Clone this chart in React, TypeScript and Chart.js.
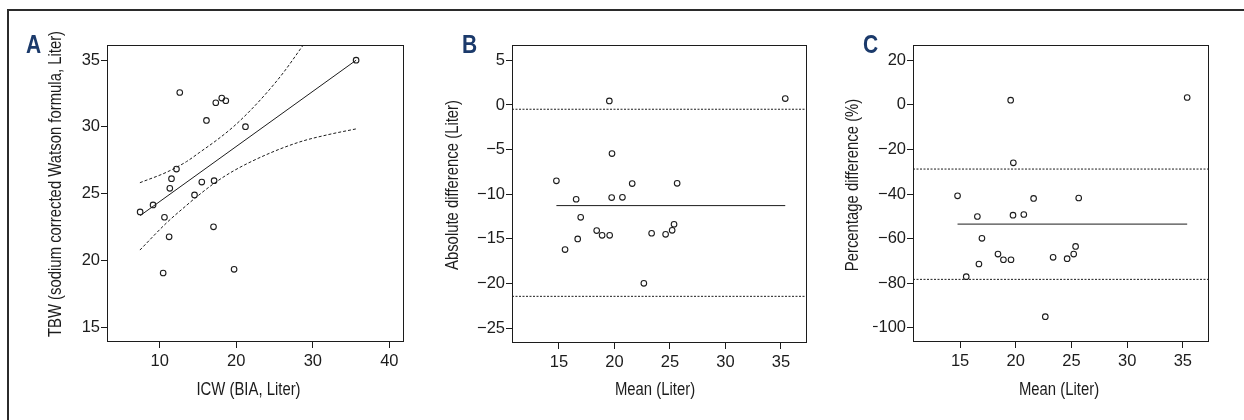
import React, { useEffect, useRef } from "react";
import { Chart, registerables } from "chart.js";

Chart.register(...registerables);

const W = 1244;
const H = 420;

// ---------- Panel A: TBW vs ICW ----------
const icwBIA = [35.66, 12.61, 18.1, 17.32, 18.63, 16.1, 21.2, 12.18, 11.53, 11.31, 15.49, 17.1, 14.54, 9.12, 7.43, 10.61, 11.22, 17.02, 10.44, 19.71];
const tbwWatson = [35.0, 32.58, 32.16, 31.81, 31.96, 30.49, 30.02, 26.84, 26.12, 25.4, 25.87, 25.97, 24.9, 24.15, 23.63, 23.23, 21.76, 22.51, 19.05, 19.33];
const regLineX = [7.43, 35.66];
const regLineY = [23.35, 35.0];
const ciUpperX = [7.4, 10.87, 13.49, 15.23, 17.42, 19.59, 21.78, 23.96, 26.13, 28.75];
const ciUpperY = [25.82, 26.6, 27.4, 28.1, 29.0, 30.0, 31.2, 32.55, 34.05, 36.14];
const ciLowerX = [7.4, 10.87, 13.49, 14.54, 17.1, 19.59, 23.96, 28.32, 32.0, 35.64];
const ciLowerY = [20.77, 22.8, 24.12, 24.63, 25.77, 26.69, 27.93, 28.88, 29.42, 29.85];
const aXTicks = [10, 20, 30, 40];
const aYTicks = [15, 20, 25, 30, 35];

// ---------- Panels B and C: Bland-Altman ----------
const meanLiter = [35.39, 19.54, 19.78, 14.77, 21.6, 25.65, 16.55, 19.75, 20.72, 16.96, 16.69, 15.55, 18.4, 18.89, 19.57, 23.35, 24.61, 25.2, 25.37, 22.65];
const absDiff = [0.72, 0.45, -5.45, -8.5, -8.81, -8.78, -10.57, -10.38, -10.35, -12.59, -15.02, -16.21, -14.08, -14.61, -14.61, -14.38, -14.5, -14.05, -13.37, -19.99];
const pctDiff = [3.3, 2.1, -26.0, -40.8, -42.0, -41.8, -50.1, -49.5, -49.2, -59.9, -71.4, -77.1, -66.95, -69.5, -69.5, -68.4, -69.0, -66.95, -63.5, -95.05];
const bMeanDiff = -11.28;
const bLoAUpper = -0.48;
const bLoALower = -21.45;
const cMeanDiff = -53.5;
const cLoAUpper = -28.8;
const cLoALower = -78.3;
const bcXTicks = [15, 20, 25, 30, 35];
const bYTicks = [5, 0, -5, -10, -15, -20, -25];
const cYTicks = [20, 0, -20, -40, -60, -80, -100];

const TICK_FONT = "'Liberation Sans', Arial, sans-serif";
const TITLE_FONT = "'Liberation Sans', Arial, sans-serif";
const INK = "#1c1c1c";
const LETTER_COLOR = "#1b3a6b";
const TITLE_SQUEEZE = 0.85;

const pts = (xs: number[], ys: number[]) => xs.map((x, i) => ({ x, y: ys[i] }));
const fmt = (v: number) => (v < 0 ? "\u2212" + Math.abs(v) : String(v));

type Panel = {
  letter: string;
  letterX: number;
  area: { l: number; r: number; t: number; b: number };
  xMin: number; xMax: number; yMin: number; yMax: number;
  xTicks: number[]; yTicks: number[];
  xTitle: string; yTitle: string;
  xTitlePos: [number, number]; yTitlePos: [number, number];
  datasets: any[];
};

const scatterDs = (data: { x: number; y: number }[]) => ({
  data,
  showLine: false,
  pointRadius: 2.8,
  pointHoverRadius: 2.8,
  pointStyle: "circle",
  pointBorderWidth: 1.1,
  borderColor: INK,
  pointBorderColor: INK,
  pointBackgroundColor: "rgba(0,0,0,0)",
  backgroundColor: "rgba(0,0,0,0)",
  order: 0,
});

const lineDs = (data: { x: number; y: number }[], dash: number[] = [], smooth = false) => ({
  data,
  showLine: true,
  pointRadius: 0,
  pointHoverRadius: 0,
  borderColor: INK,
  borderWidth: 1,
  borderDash: dash,
  fill: false,
  cubicInterpolationMode: smooth ? "monotone" : "default",
  tension: 0,
  order: 1,
});

const BC_XMIN = 10.77;
const BC_XMAX = 37.35;
const mMin = Math.min(...meanLiter);
const mMax = Math.max(...meanLiter);

const panels: Panel[] = [
  {
    letter: "A", letterX: 26,
    area: { l: 107, r: 404, t: 45, b: 342 },
    xMin: 3.1, xMax: 41.92, yMin: 13.88, yMax: 36.14,
    xTicks: aXTicks, yTicks: aYTicks,
    xTitle: "ICW (BIA, Liter)",
    yTitle: "TBW (sodium corrected Watson formula, Liter)",
    xTitlePos: [248.5, 390], yTitlePos: [56, 184],
    datasets: [
      lineDs(pts(regLineX, regLineY)),
      lineDs(pts(ciUpperX, ciUpperY), [3, 2], true),
      lineDs(pts(ciLowerX, ciLowerY), [3, 2], true),
      scatterDs(pts(icwBIA, tbwWatson)),
    ],
  },
  {
    letter: "B", letterX: 462,
    area: { l: 512, r: 807, t: 45, b: 343 },
    xMin: BC_XMIN, xMax: BC_XMAX, yMin: -26.68, yMax: 6.72,
    xTicks: bcXTicks, yTicks: bYTicks,
    xTitle: "Mean (Liter)",
    yTitle: "Absolute difference (Liter)",
    xTitlePos: [655, 390], yTitlePos: [453, 185],
    datasets: [
      lineDs([{ x: mMin, y: bMeanDiff }, { x: mMax, y: bMeanDiff }]),
      lineDs([{ x: BC_XMIN, y: bLoAUpper }, { x: BC_XMAX, y: bLoAUpper }], [2, 1.5]),
      lineDs([{ x: BC_XMIN, y: bLoALower }, { x: BC_XMAX, y: bLoALower }], [2, 1.5]),
      scatterDs(pts(meanLiter, absDiff)),
    ],
  },
  {
    letter: "C", letterX: 863,
    area: { l: 913, r: 1209, t: 45, b: 342 },
    xMin: BC_XMIN, xMax: BC_XMAX, yMin: -106.4, yMax: 26.86,
    xTicks: bcXTicks, yTicks: cYTicks,
    xTitle: "Mean (Liter)",
    yTitle: "Percentage difference (%)",
    xTitlePos: [1059, 390], yTitlePos: [853, 185],
    datasets: [
      lineDs([{ x: mMin, y: cMeanDiff }, { x: mMax, y: cMeanDiff }]),
      lineDs([{ x: BC_XMIN, y: cLoAUpper }, { x: BC_XMAX, y: cLoAUpper }], [2, 1.5]),
      lineDs([{ x: BC_XMIN, y: cLoALower }, { x: BC_XMAX, y: cLoALower }], [2, 1.5]),
      scatterDs(pts(meanLiter, pctDiff)),
    ],
  },
];

const AXIS_W = 40;
const AXIS_H = 40;

const decorPlugin = {
  id: "decor",
  afterDraw(chart: any, _args: any, opts: any) {
    const p: Panel = opts.panel;
    const { ctx, chartArea: a } = chart;
    ctx.save();
    // plot box
    ctx.strokeStyle = INK;
    ctx.lineWidth = 1;
    ctx.setLineDash([]);
    ctx.strokeRect(a.left + 0.5, a.top + 0.5, a.right - a.left - 1, a.bottom - a.top - 1);
    // axis titles (slightly condensed, like the original typeface)
    ctx.fillStyle = INK;
    ctx.font = `17.5px ${TITLE_FONT}`;
    ctx.textAlign = "center";
    ctx.textBaseline = "middle";
    ctx.save();
    ctx.translate(p.xTitlePos[0], p.xTitlePos[1]);
    ctx.scale(TITLE_SQUEEZE, 1);
    ctx.fillText(p.xTitle, 0, 0);
    ctx.restore();
    ctx.save();
    ctx.translate(p.yTitlePos[0], p.yTitlePos[1]);
    ctx.rotate(-Math.PI / 2);
    ctx.scale(TITLE_SQUEEZE, 1);
    ctx.fillText(p.yTitle, 0, 0);
    ctx.restore();
    // panel letter
    ctx.fillStyle = LETTER_COLOR;
    ctx.font = `bold 25px ${TITLE_FONT}`;
    ctx.textAlign = "left";
    ctx.textBaseline = "alphabetic";
    ctx.save();
    ctx.translate(p.letterX, 52.5);
    ctx.scale(0.84, 1);
    ctx.fillText(p.letter, 0, 0);
    ctx.restore();
    ctx.restore();
  },
};

function buildConfig(p: Panel): any {
  const axisCommon = (ticks: number[]) => ({
    type: "linear",
    afterBuildTicks: (s: any) => {
      s.ticks = ticks.map((v) => ({ value: v }));
    },
    grid: {
      display: true,
      drawOnChartArea: false,
      drawTicks: true,
      tickLength: 6,
      tickColor: INK,
      tickWidth: 1,
      color: INK,
    },
    border: { display: false },
  });
  return {
    type: "scatter",
    data: { datasets: p.datasets },
    plugins: [decorPlugin],
    options: {
      responsive: false,
      animation: false,
      devicePixelRatio: 1,
      events: [],
      layout: {
        padding: {
          left: p.area.l - AXIS_W,
          right: W - p.area.r,
          top: p.area.t,
          bottom: H - p.area.b - AXIS_H,
        },
      },
      plugins: {
        legend: { display: false },
        tooltip: { enabled: false },
        decor: { panel: p },
      },
      scales: {
        x: {
          ...axisCommon(p.xTicks),
          position: "bottom",
          min: p.xMin,
          max: p.xMax,
          afterFit: (s: any) => {
            s.height = AXIS_H;
          },
          ticks: {
            font: { family: TICK_FONT, size: 16.5 },
            color: INK,
            padding: 4,
            maxRotation: 0,
            autoSkip: false,
            callback: (v: any) => fmt(Number(v)),
          },
        },
        y: {
          ...axisCommon(p.yTicks),
          position: "left",
          min: p.yMin,
          max: p.yMax,
          afterFit: (s: any) => {
            s.width = AXIS_W;
          },
          ticks: {
            font: { family: TICK_FONT, size: 16.5 },
            color: INK,
            padding: 1,
            autoSkip: false,
            callback: (v: any) => fmt(Number(v)),
          },
        },
      },
    },
  };
}

export default function App() {
  const r0 = useRef<HTMLCanvasElement>(null);
  const r1 = useRef<HTMLCanvasElement>(null);
  const r2 = useRef<HTMLCanvasElement>(null);
  const refs = [r0, r1, r2];

  useEffect(() => {
    const charts = panels.map((p, i) => new Chart(refs[i].current as HTMLCanvasElement, buildConfig(p)));
    return () => charts.forEach((c) => c.destroy());
  }, []);

  return (
    <div style={{ position: "absolute", left: 0, top: 0, width: W, height: H, background: "#fff", overflow: "hidden" }}>
      <div
        style={{
          position: "absolute",
          left: 7,
          top: 9,
          width: W,
          height: H,
          borderTop: "2px solid #2b2b2b",
          borderLeft: "2px solid #2b2b2b",
          boxSizing: "border-box",
        }}
      />
      {panels.map((p, i) => (
        <canvas
          key={p.letter}
          ref={refs[i]}
          width={W}
          height={H}
          style={{ position: "absolute", left: 0, top: 0, width: W, height: H }}
        />
      ))}
    </div>
  );
}
